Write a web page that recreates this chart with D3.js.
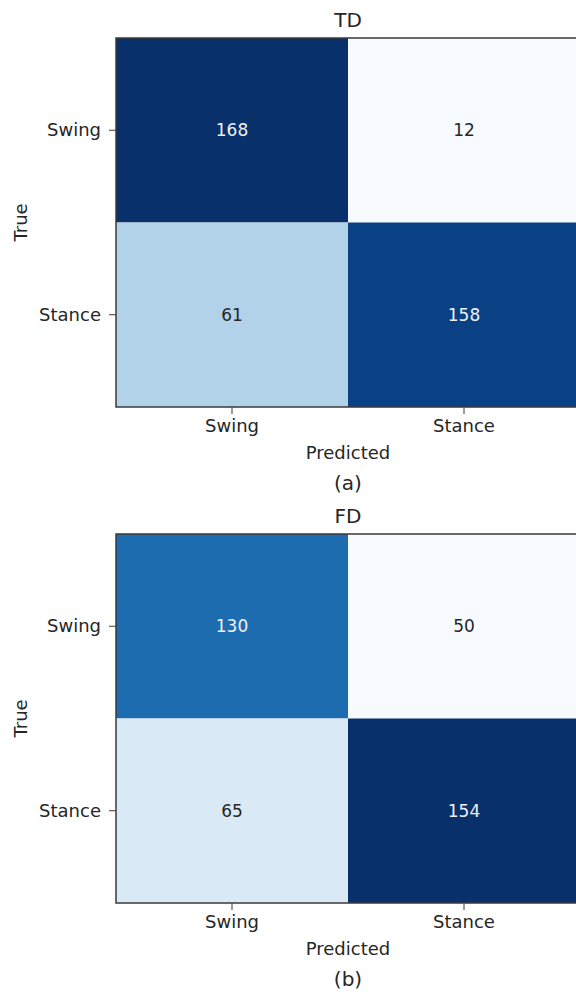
<!DOCTYPE html>
<html>
<head>
<meta charset="utf-8">
<script src="https://cdn.jsdelivr.net/npm/d3@7"></script>
<style>
  body { margin: 0; background: #fff; }
  svg { display: block; font-family: "DejaVu Sans", sans-serif; }
</style>
</head>
<body>
<svg id="chart" width="576" height="993"></svg>
<script>
// categories and values
var categories = ["Swing", "Stance"];
var tdValues = [[168, 12], [61, 158]];
var fdValues = [[130, 50], [65, 154]];
var titles = ["TD", "FD"];
var captions = ["(a)", "(b)"];

var svg = d3.select("#chart");
var left = 116, cellW = 232, cellH = 184.5;
var tops = [38, 534];

function drawMatrix(values, title, caption, top) {
    var x = d3.scaleBand().domain(categories).range([left, left + cellW * 2]);
    var y = d3.scaleBand().domain(categories).range([top, top + cellH * 2]);
    var flat = values.flat();
    var lo = d3.min(flat), hi = d3.max(flat);
    var color = d3.scaleSequential(d3.interpolateBlues).domain([lo, hi]);
    var thresh = (lo + hi) / 2;

    var cells = [];
    values.forEach((row, i) => row.forEach((v, j) => cells.push({ t: categories[i], p: categories[j], v: v })));

    var g = svg.append("g");
    g.selectAll("rect.cell")
        .data(cells)
        .join("rect")
        .attr("class", "cell")
        .attr("x", d => x(d.p))
        .attr("y", d => y(d.t))
        .attr("width", x.bandwidth())
        .attr("height", y.bandwidth())
        .attr("fill", d => color(d.v));

    g.selectAll("text.val")
        .data(cells)
        .join("text")
        .attr("class", "val")
        .attr("x", d => x(d.p) + x.bandwidth() / 2)
        .attr("y", d => y(d.t) + y.bandwidth() / 2)
        .attr("dy", "0.35em")
        .attr("text-anchor", "middle")
        .attr("font-size", 17)
        .attr("fill", d => d.v > thresh ? "#f0f0f0" : "#262626")
        .text(d => d.v);

    // frame
    g.append("rect")
        .attr("x", left).attr("y", top)
        .attr("width", cellW * 2).attr("height", cellH * 2)
        .attr("fill", "none")
        .attr("stroke", "#3a3a3a")
        .attr("stroke-width", 1.5);

    var xa = g.append("g")
        .attr("transform", `translate(0,${top + cellH * 2})`)
        .call(d3.axisBottom(x).tickSizeOuter(0).tickSize(7).tickPadding(5));
    var ya = g.append("g")
        .attr("transform", `translate(${left},0)`)
        .call(d3.axisLeft(y).tickSizeOuter(0).tickSize(7).tickPadding(8));
    [xa, ya].forEach(a => {
        a.select(".domain").remove();
        a.selectAll("line").attr("stroke", "#3a3a3a");
        a.selectAll("text").attr("font-size", 18).attr("fill", "#262626")
            .attr("font-family", "DejaVu Sans, sans-serif");
    });

    g.append("text")
        .attr("x", left + cellW).attr("y", top - 11)
        .attr("text-anchor", "middle")
        .attr("font-size", 20).attr("fill", "#262626")
        .text(title);

    g.append("text")
        .attr("x", left + cellW).attr("y", top + cellH * 2 + 52)
        .attr("text-anchor", "middle")
        .attr("font-size", 18).attr("fill", "#262626")
        .text("Predicted");

    g.append("text")
        .attr("transform", `translate(27,${top + cellH}) rotate(-90)`)
        .attr("text-anchor", "middle")
        .attr("font-size", 18).attr("fill", "#262626")
        .text("True");

    g.append("text")
        .attr("x", left + cellW).attr("y", top + cellH * 2 + 83)
        .attr("text-anchor", "middle")
        .attr("font-size", 20).attr("fill", "#262626")
        .text(caption);
}

drawMatrix(tdValues, titles[0], captions[0], tops[0]);
drawMatrix(fdValues, titles[1], captions[1], tops[1]);
</script>
</body>
</html>
